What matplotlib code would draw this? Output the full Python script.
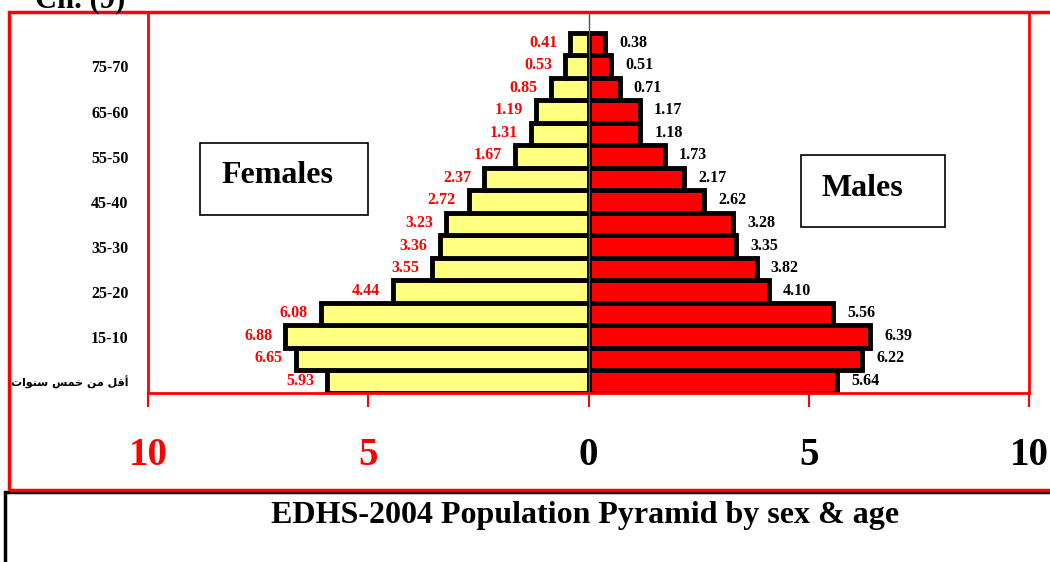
import matplotlib.pyplot as plt
import matplotlib.patches as patches
import matplotlib.patheffects as pe

# bottom (index 0) to top
age_labels = ["أقل من خمس سنوات", "", "15-10", "", "25-20", "", "35-30", "",
              "45-40", "", "55-50", "", "65-60", "", "75-70", ""]
females = [5.93, 6.65, 6.88, 6.08, 4.44, 3.55, 3.36, 3.23,
           2.72, 2.37, 1.67, 1.31, 1.19, 0.85, 0.53, 0.41]
males = [5.64, 6.22, 6.39, 5.56, 4.10, 3.82, 3.35, 3.28,
         2.62, 2.17, 1.73, 1.18, 1.17, 0.71, 0.51, 0.38]
x_ticks = [-10, -5, 0, 5, 10]
x_ticklabels = ["10", "5", "0", "5", "10"]


def shape_arabic(s):
    # matplotlib has no arabic shaping: use presentation forms, reversed
    forms = {"أقل": "\uFE83\uFED7\uFEDE", "من": "\uFEE3\uFEE6",
             "خمس": "\uFEA7\uFEE4\uFEB2", "سنوات": "\uFEB3\uFEE8\uFEEE\uFE8D\uFE95"}
    words = [forms.get(w, w) for w in s.split(" ")]
    return " ".join(words)[::-1]


plt.rcParams['font.family'] = ['Liberation Serif', 'DejaVu Sans']
plt.rcParams['font.weight'] = 'bold'

W, H = 1050, 562


def fx(px):
    return px / W


def fy(py):
    return 1 - py / H


fig = plt.figure(figsize=(W / 100, H / 100), dpi=100)
ax = fig.add_axes([fx(148), fy(393), fx(1029 - 148), (393 - 12) / H])

y = list(range(len(females)))
shadow = [pe.SimplePatchShadow(offset=(2, -2), shadow_rgbFace='#888888', alpha=0.6), pe.Normal()]
fb = ax.barh(y, [-v for v in females], height=1.0, color='#FFFF80',
             edgecolor='black', linewidth=3.5, zorder=2)
mb = ax.barh(y, males, height=1.0, color='#FF0000',
             edgecolor='black', linewidth=3.5, zorder=2)
for b in list(fb) + list(mb):
    b.set_path_effects(shadow)

for i, (f, m) in enumerate(zip(females, males)):
    ax.text(-f - 0.3, i + 0.05, f"{f:.2f}", color='red', fontsize=11.5,
            fontweight='bold', ha='right', va='center', zorder=3)
    ax.text(m + 0.32, i + 0.05, f"{m:.2f}", color='black', fontsize=11.5,
            fontweight='bold', ha='left', va='center', zorder=3)

ax.axvline(0, color='#555555', linewidth=1, zorder=3)

ax.set_xlim(-10, 10)
ax.set_ylim(-0.5, 16.42)
ax.set_xticks(x_ticks)
ax.set_xticklabels(x_ticklabels, fontsize=28, fontweight='bold')
for lab, c in zip(ax.get_xticklabels(), ['red', 'red', 'black', 'black', 'black']):
    lab.set_color(c)
ax.tick_params(axis='x', direction='out', length=10, width=1.5, color='red', pad=22)
ax.set_yticks(y)
ax.set_yticklabels([shape_arabic(l) if l.startswith("أ") else l for l in age_labels],
                   fontsize=11.5, fontweight='bold')
ax.get_yticklabels()[0].set_fontsize(8)
ax.get_yticklabels()[0].set_family('DejaVu Sans')
ax.tick_params(axis='y', length=0, pad=14)
for s in ax.spines.values():
    s.set_color('red')
    s.set_linewidth(2)

# legend boxes
fig.add_artist(patches.Rectangle((fx(200), fy(215)), fx(168), 72 / H, transform=fig.transFigure,
                                 fill=True, fc='white', ec='black', lw=1.2, zorder=4))
fig.text(fx(277), fy(175), "Females", fontsize=23, fontweight='bold', ha='center', va='center', zorder=5)
fig.add_artist(patches.Rectangle((fx(801), fy(227)), fx(144), 72 / H, transform=fig.transFigure,
                                 fill=True, fc='white', ec='black', lw=1.2, zorder=4))
fig.text(fx(862), fy(188), "Males", fontsize=23, fontweight='bold', ha='center', va='center', zorder=5)

# outer frames
fig.add_artist(patches.Rectangle((fx(5), -0.05), 1.1, 1 - 492 / H + 0.05, transform=fig.transFigure,
                                 fill=False, ec='black', lw=2.5, clip_on=False))
fig.add_artist(patches.Rectangle((fx(9), fy(490)), 1.1, (490 - 12) / H, transform=fig.transFigure,
                                 fill=False, ec='red', lw=2.5, clip_on=False))

fig.text(fx(585), fy(515), "EDHS-2004 Population Pyramid by sex & age",
         fontsize=23, fontweight='bold', ha='center', va='center')
fig.text(fx(35), fy(0), "Ch. (9)", fontsize=22, fontweight='bold', ha='left', va='center')

fig.savefig("out.png", dpi=100)
